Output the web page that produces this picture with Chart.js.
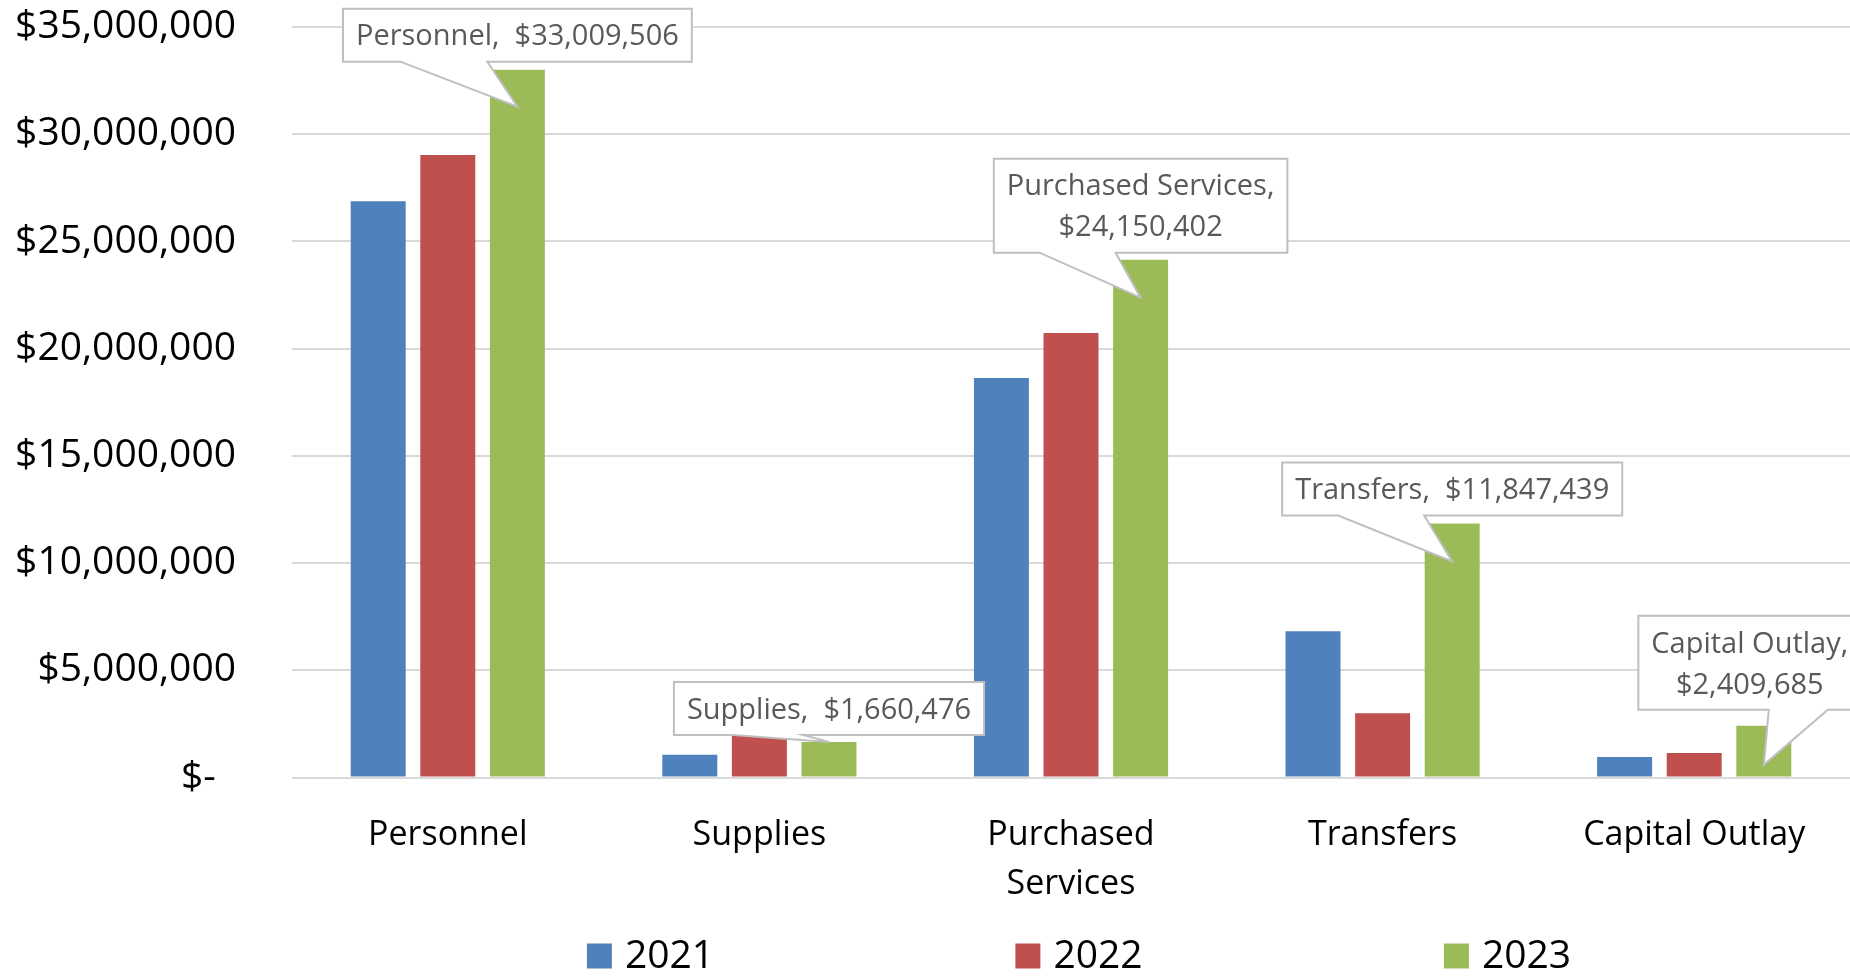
<!DOCTYPE html>
<html>
<head>
<meta charset="utf-8">
<title>Expenditures by Category</title>
<script src="https://cdn.jsdelivr.net/npm/chart.js@4.4.1/dist/chart.umd.min.js"></script>
<style>
  html, body { margin: 0; padding: 0; background: #ffffff; overflow: hidden; }
  #wrap { width: 1850px; height: 977px; }
</style>
</head>
<body>
<div id="wrap"><canvas id="chart-budget" width="1850" height="977"></canvas></div>
<script>
// values (2023 values come from the callouts)
const categories = ['Personnel', 'Supplies', 'Purchased Services', 'Transfers', 'Capital Outlay'];
const years = ['2021', '2022', '2023'];
const values2021 = [26870000, 1060000, 18630000, 6820000, 955000];
const values2022 = [29030000, 2100000, 20730000, 3000000, 1140000];
const values2023 = [33009506, 1660476, 24150402, 11847439, 2409685];
const yTicks = [0, 5000000, 10000000, 15000000, 20000000, 25000000, 30000000, 35000000];

const colors = ['#4F81BD', '#C0504D', '#9BBB59'];
const FONT = '"Open Sans", "Noto Sans", sans-serif';

// where each callout sits relative to its 2023 bar
const calloutSpecs = [
  { index: 0, lines: 1, dx: 0,   gap: 45, tipDy: 37, base: [-117, -30] },
  { index: 1, lines: 1, dx: 0,   gap: 7,  tipDy: 0,  base: [-96, -26] },
  { index: 2, lines: 2, dx: 0,   gap: 45, tipDy: 38, base: [-101, -25] },
  { index: 3, lines: 1, dx: 0,   gap: 46, tipDy: 38, base: [-114, -28] },
  { index: 4, lines: 2, dx: -14, gap: 55, tipDy: 39, base: [19, 78] }
];

const money = v => '$' + Math.round(v).toLocaleString('en-US');

// callout boxes, excel style
const calloutPlugin = {
  id: 'callouts',
  afterDatasetsDraw(chart) {
    const ctx = chart.ctx;
    const meta = chart.getDatasetMeta(2);
    const fontSize = 29, lineH = 41, padX = 13;
    ctx.save();
    ctx.font = fontSize + 'px ' + FONT;
    calloutSpecs.forEach(spec => {
      const bar = meta.data[spec.index];
      const name = categories[spec.index];
      const val = money(values2023[spec.index]);
      const lines = spec.lines === 2 ? [name + ',', val] : [name + ',  ' + val];
      const textW = Math.max(...lines.map(l => ctx.measureText(l).width));
      const w = textW + padX * 2;
      const h = lineH * lines.length + 12;
      const tipX = bar.x, tipY = bar.y + spec.tipDy;
      const cx = tipX + spec.dx;
      const bottom = tipY - spec.gap;
      const top = bottom - h;
      const left = cx - w / 2, right = cx + w / 2;

      ctx.beginPath();
      ctx.moveTo(left, top);
      ctx.lineTo(right, top);
      ctx.lineTo(right, bottom);
      ctx.lineTo(cx + spec.base[1], bottom);
      ctx.lineTo(tipX, tipY);
      ctx.lineTo(cx + spec.base[0], bottom);
      ctx.lineTo(left, bottom);
      ctx.closePath();
      ctx.fillStyle = '#ffffff';
      ctx.fill();
      ctx.lineWidth = 2;
      ctx.strokeStyle = '#BFBFBF';
      ctx.stroke();

      ctx.fillStyle = '#595959';
      ctx.textAlign = 'center';
      ctx.textBaseline = 'middle';
      const firstY = top + h / 2 - (lines.length - 1) * lineH / 2 + 2;
      lines.forEach((l, i) => ctx.fillText(l, cx, firstY + i * lineH));
    });
    ctx.restore();
  }
};

// legend spread out under the plot
const legendPlugin = {
  id: 'spreadLegend',
  afterDraw(chart) {
    const ctx = chart.ctx;
    const centerX = 1079, y = 956, spacing = 428.5, box = 25, gap = 13;
    ctx.save();
    ctx.font = '39px ' + FONT;
    ctx.textBaseline = 'middle';
    ctx.textAlign = 'left';
    chart.data.datasets.forEach((ds, i) => {
      const tw = ctx.measureText(ds.label).width;
      const itemW = box + gap + tw;
      const x0 = centerX + (i - 1) * spacing - itemW / 2;
      ctx.fillStyle = ds.backgroundColor;
      ctx.fillRect(x0, y - box / 2, box, box);
      ctx.fillStyle = '#000000';
      ctx.fillText(ds.label, x0 + box + gap, y + 1);
    });
    ctx.restore();
  }
};

const measureCtx = document.createElement('canvas').getContext('2d');
measureCtx.font = '34px ' + FONT;
function wrapLabel(label) {
  if (measureCtx.measureText(label).width > 260 && label.includes(' ')) {
    return label.split(' ');
  }
  return label;
}

const ctx = document.getElementById('chart-budget').getContext('2d');
const myChart = new Chart(ctx, {
  type: 'bar',
  data: {
    labels: categories.map(wrapLabel),
    datasets: [
      { label: years[0], data: values2021, backgroundColor: colors[0] },
      { label: years[1], data: values2022, backgroundColor: colors[1] },
      { label: years[2], data: values2023, backgroundColor: colors[2] }
    ]
  },
  options: {
    responsive: false,
    devicePixelRatio: 1,
    animation: false,
    layout: { padding: { top: 0, right: 0, bottom: 70, left: 0 } },
    datasets: {
      bar: { categoryPercentage: 0.67, barPercentage: 0.79 }
    },
    plugins: {
      legend: { display: false },
      tooltip: { enabled: false }
    },
    scales: {
      x: {
        grid: { display: false },
        border: { display: false },
        afterFit: axis => { axis.height = 129.5; },
        ticks: {
          color: '#000000',
          font: { family: FONT, size: 34, lineHeight: 1.45 },
          padding: 25,
          maxRotation: 0,
          autoSkip: false
        }
      },
      y: {
        min: 0,
        max: 35000000,
        afterBuildTicks: axis => { axis.ticks = yTicks.map(v => ({ value: v })); },
        afterFit: axis => {
          axis.width = 292;
          axis.paddingTop = 27;
          axis.paddingBottom = 23.5;
        },
        grid: { color: '#D9D9D9', lineWidth: 2, drawTicks: false },
        border: { display: false },
        ticks: {
          color: '#000000',
          font: { family: FONT, size: 39, lineHeight: 1.2 },
          padding: 56,
          callback: v => v === 0 ? '$-  ' : money(v)
        }
      }
    }
  },
  plugins: [calloutPlugin, legendPlugin]
});
</script>
</body>
</html>
